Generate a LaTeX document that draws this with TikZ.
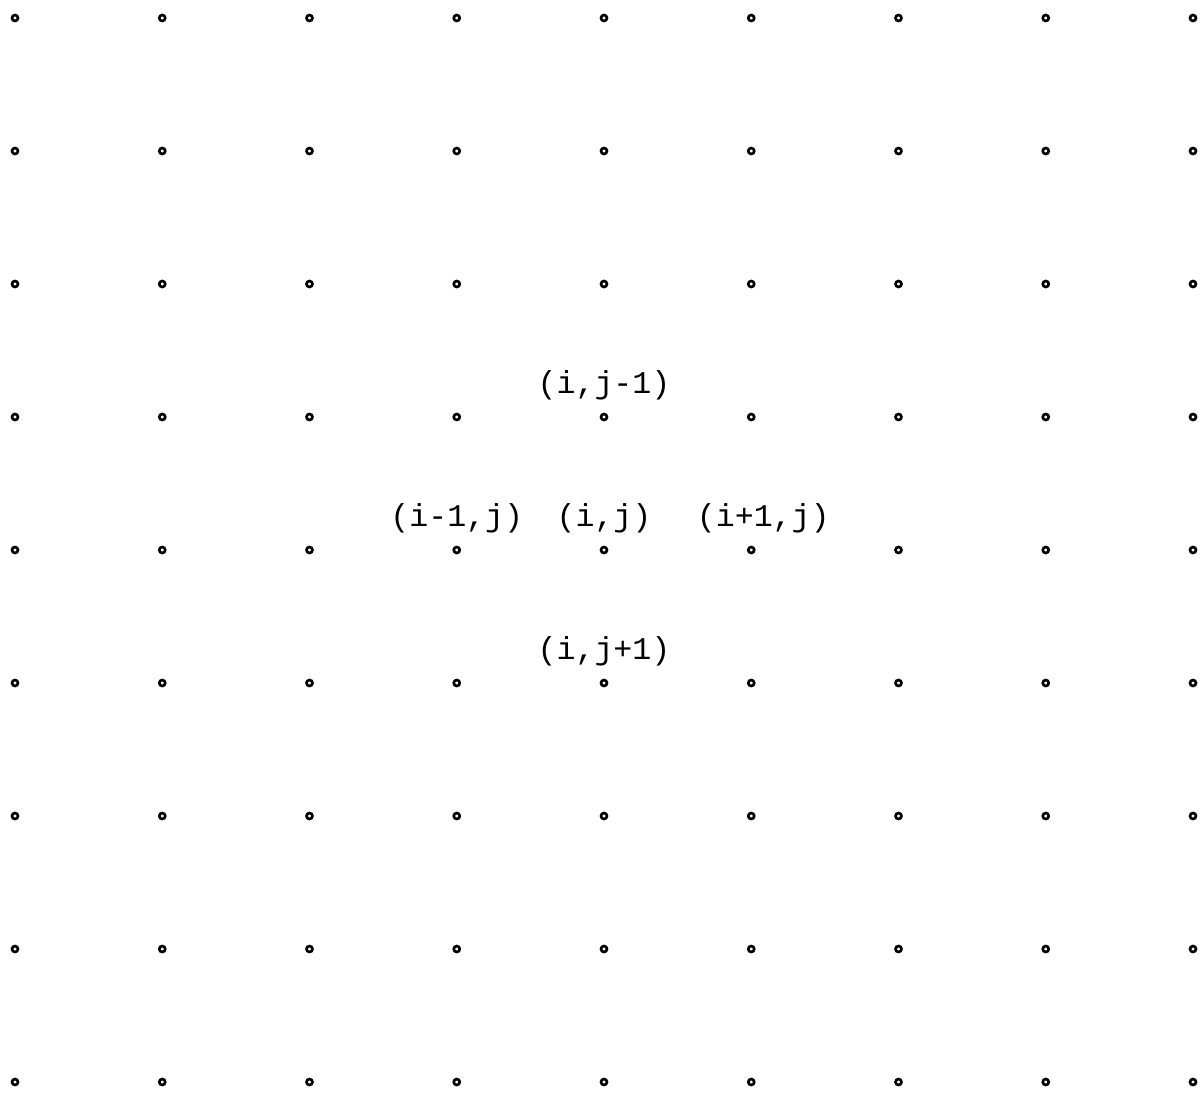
\documentclass[tikz,border=0pt]{standalone}
\usepackage{fontspec}
\setmonofont{Liberation Mono}
\usetikzlibrary{positioning}

\begin{document}
\begin{tikzpicture}[
    x=0.02cm, y=-0.02cm,
    node distance=0.24cm,
    dot/.style={circle, draw, line width=1.5pt, inner sep=0pt, minimum size=0.12cm},
    lbl/.style={font=\ttfamily\fontsize{18}{20}\selectfont, inner sep=0pt}
]
\useasboundingbox (0,0) rectangle (1204,1096);

% grid of points
\foreach \i in {1,...,9}
  \foreach \j in {1,...,9}
    \node[dot] (p-\i-\j) at ({15+(\i-1)*147.25},{18+(\j-1)*133}) {};

% neighbour labels
\node[lbl, above=of p-5-4] (up) {(i,j-1)};
\node[lbl, above=of p-4-5] (left) {(i-1,j)};
\node[lbl, above=of p-5-5] (mid) {(i,j)};
\node[lbl, above=of p-6-5, xshift=0.24cm] (right) {(i+1,j)};
\node[lbl, above=of p-5-6] (down) {(i,j+1)};

\end{tikzpicture}
\end{document}
